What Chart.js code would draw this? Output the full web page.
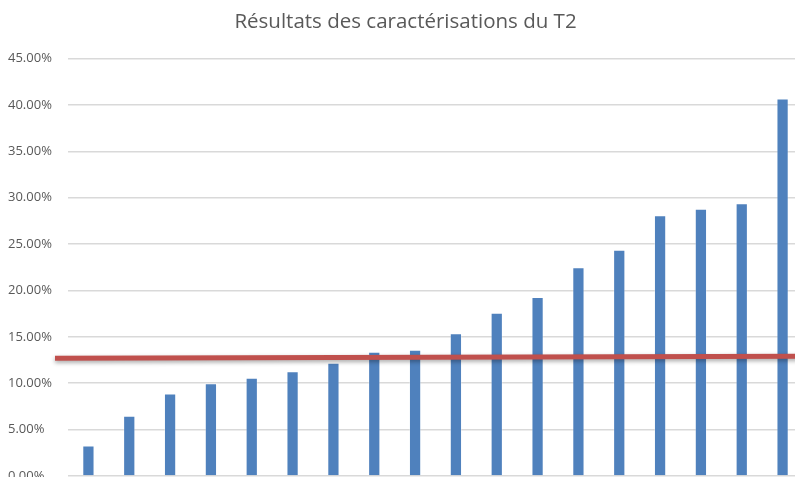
<!DOCTYPE html>
<html>
<head>
<meta charset="utf-8">
<script src="https://cdn.jsdelivr.net/npm/chart.js@4"></script>
<style>
  html, body { margin: 0; padding: 0; background: #fff; overflow: hidden; }
  #wrap { width: 803px; height: 492px; }
</style>
</head>
<body>
<div id="wrap"><canvas id="t2Chart"></canvas></div>
<script>
// Résultats des caractérisations du T2 (valeurs en %)
const categories = ["1", "2", "3", "4", "5", "6", "7", "8", "9", "10", "11", "12", "13", "14", "15", "16", "17", "18"];
const t2Values = [3.3, 6.5, 8.9, 10.0, 10.6, 11.3, 12.2, 13.4, 13.6, 15.4, 17.6, 19.3, 22.5, 24.4, 28.1, 28.8, 29.4, 40.7];
const yTicks = [0, 5, 10, 15, 20, 25, 30, 35, 40, 45];
// seuil (trait rouge), légèrement incliné : début / fin
const thresholdLine = [12.7, 12.9];

// trait rouge dessiné par-dessus les barres
const thresholdPlugin = {
  id: "threshold",
  afterDatasetsDraw(chart) {
    const { ctx, chartArea, scales } = chart;
    const y0 = scales.y.getPixelForValue(thresholdLine[0]);
    const y1 = scales.y.getPixelForValue(thresholdLine[1]);
    ctx.save();
    ctx.shadowColor = "rgba(0,0,0,0.35)";
    ctx.shadowBlur = 4;
    ctx.shadowOffsetY = 2;
    ctx.strokeStyle = "#c0504d";
    ctx.lineWidth = 5;
    ctx.beginPath();
    ctx.moveTo(chartArea.left - 13, y0);
    ctx.lineTo(chart.width, y1);
    ctx.stroke();
    ctx.restore();
  },
};

const ctx = document.getElementById("t2Chart").getContext("2d");
new Chart(ctx, {
  type: "bar",
  data: {
    labels: categories,
    datasets: [
      {
        data: t2Values,
        backgroundColor: "#4f81bd",
        borderColor: "rgba(255,255,255,0.3)",
        borderWidth: 1,
        barPercentage: 0.3,
        categoryPercentage: 1,
      },
    ],
  },
  options: {
    responsive: true,
    maintainAspectRatio: false,
    animation: false,
    layout: { padding: { left: 8, right: 0, top: 0, bottom: 8 } },
    plugins: {
      legend: { display: false },
      tooltip: { enabled: false },
      title: {
        display: true,
        text: "Résultats des caractérisations du T2",
        color: "#595959",
        font: { family: "Open Sans", size: 20.5, weight: "normal" },
        padding: { top: 10, bottom: 24 },
      },
    },
    scales: {
      x: {
        grid: { display: false },
        border: { display: false },
        ticks: { display: false },
      },
      y: {
        min: 0,
        max: 45,
        afterBuildTicks: (scale) => {
          scale.ticks = yTicks.map((v) => ({ value: v }));
        },
        afterFit: (scale) => {
          scale.width = 60;
        },
        grid: { color: "#d9d9d9", lineWidth: 1.5, drawTicks: false },
        border: { display: false },
        ticks: {
          crossAlign: "far",
          color: "#595959",
          font: { family: "Open Sans", size: 13 },
          callback: (v) => v.toFixed(2) + "%",
        },
      },
    },
  },
  plugins: [thresholdPlugin],
});
</script>
</body>
</html>
